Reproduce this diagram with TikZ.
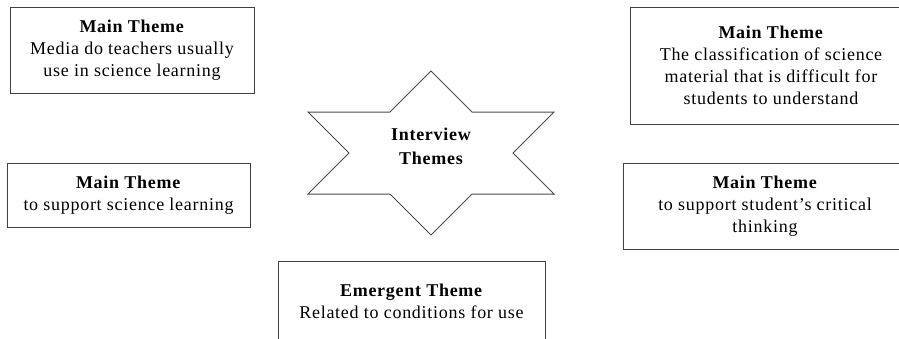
\documentclass[tikz,border=0pt]{standalone}
\usepackage{fontspec}
\setmainfont{Liberation Serif}[LetterSpace=4]
\usetikzlibrary{shadows,calc}
\begin{document}
\begin{tikzpicture}[x=1pt, y=-1pt,
    theme/.style={draw=black!75, line width=1pt, fill=white, align=center,
        drop shadow={shadow xshift=1.2pt, shadow yshift=-1.2pt, fill=black!45, opacity=1},
        font=\fontsize{18}{22}\selectfont},
    headline/.style={font=\bfseries}]
    \useasboundingbox (0,0) rectangle (899,338);
    % the star in the middle
    \coordinate (c) at (431,153);
    \draw[draw=black!70, line width=1pt, fill=white]
        ($(c)+(0,-82)$) -- ++(41,41) -- ++(82,0) -- ++(-41,41) -- ++(41,41) -- ++(-82,0)
        -- ++(-41,41) -- ++(-41,-41) -- ++(-82,0) -- ++(41,-41) -- ++(-41,-41) -- ++(82,0) -- cycle;
    \node[align=center, font=\fontsize{18}{24}\selectfont\bfseries] (iv) at (431,146) {Interview\\Themes};
    % themes round it
    \node[theme, minimum width=244, minimum height=86] (media) at (132,50)
        {\textbf{Main Theme}\\Media do teachers usually\\use in science learning};
    \node[theme, minimum width=282, minimum height=117] (classif) at (771,65.5)
        {\textbf{Main Theme}\\The classification of science\\material that is difficult for\\students to understand};
    \node[theme, minimum width=243, minimum height=64] (support) at (128.5,195)
        {\textbf{Main Theme}\\to support science learning};
    \node[theme, minimum width=284, minimum height=86] (critical) at (765,206)
        {\textbf{Main Theme}\\to support student's critical\\thinking};
    \node[theme, minimum width=267, minimum height=80] (emergent) at (411.5,301)
        {\textbf{Emergent Theme}\\Related to conditions for use};
\end{tikzpicture}
\end{document}
